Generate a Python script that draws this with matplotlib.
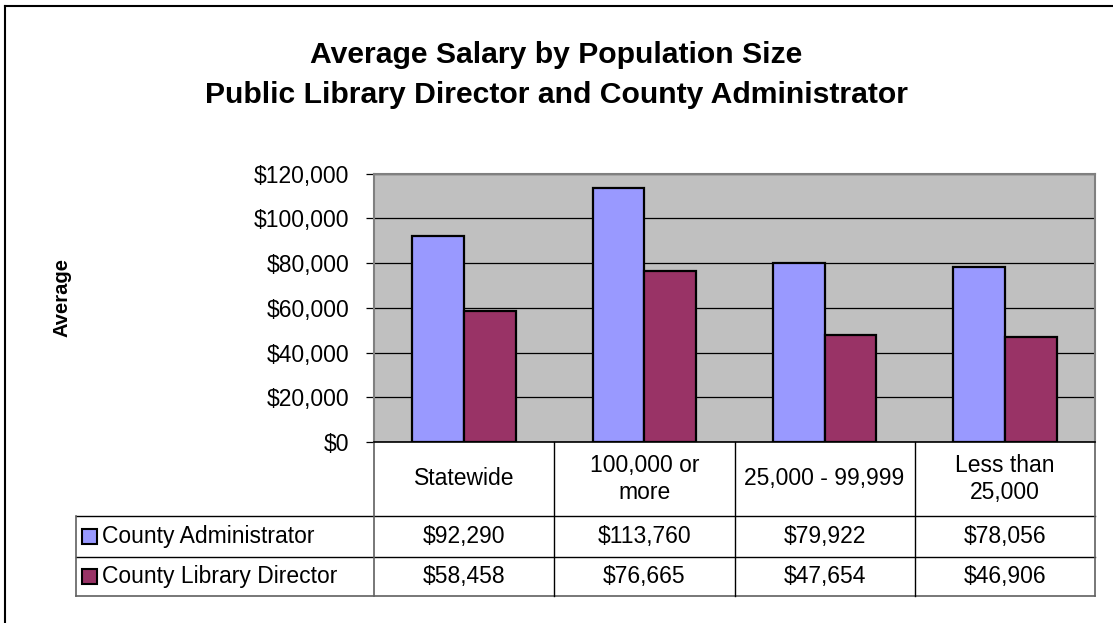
import matplotlib.pyplot as plt
from matplotlib.patches import Rectangle
from matplotlib.lines import Line2D

plt.rcParams['font.family'] = ['Liberation Sans', 'DejaVu Sans']

categories = ['Statewide', '100,000 or\nmore', '25,000 - 99,999', 'Less than\n25,000']
series_names = ['County Administrator', 'County Library Director']
admin = [92290, 113760, 79922, 78056]
library = [58458, 76665, 47654, 46906]
series_values = [admin, library]
colors = ['#9999FF', '#993366']
yticks = [0, 20000, 40000, 60000, 80000, 100000, 120000]
title_lines = ['Average Salary by Population Size',
               'Public Library Director and County Administrator']

W, H = 1113, 623
fig = plt.figure(figsize=(W / 100, H / 100), dpi=100)

# outer chart border (only top and left visible in the crop)
fig.add_artist(Line2D([5 / W, 5 / W], [0, 1 - 6 / H], color='black', lw=1.5))
fig.add_artist(Line2D([5 / W, 1], [1 - 6 / H, 1 - 6 / H], color='black', lw=1.5))

ax_l, ax_r, ax_t, ax_b = 374, 1095, 173.7, 442
ax = fig.add_axes([ax_l / W, 1 - ax_b / H, (ax_r - ax_l) / W, (ax_b - ax_t) / H])
ax.set_facecolor('#C0C0C0')

bw = 0.287
x = list(range(len(categories)))
for i, (vals, c) in enumerate(zip(series_values, colors)):
    off = (i - 0.5) * bw
    ax.bar([xi + off for xi in x], vals, width=bw, color=c,
           edgecolor='black', linewidth=1.6, zorder=3)

ax.set_xlim(-0.5, len(categories) - 0.5)
ax.set_ylim(0, 120000)
ax.set_yticks(yticks)
ax.set_yticklabels(['${:,}'.format(v) for v in yticks], fontsize=16.5)
ax.set_xticks([])
ax.grid(axis='y', color='black', lw=0.9, zorder=1)
ax.tick_params(axis='y', direction='out', length=6, width=0.9, pad=12)
for s in ['top', 'right', 'left']:
    ax.spines[s].set_color('#808080')
    ax.spines[s].set_linewidth(1.5)
ax.spines['bottom'].set_color('black')
ax.spines['bottom'].set_linewidth(1.2)

ax.set_ylabel('Average', fontsize=14.5, fontweight='bold', labelpad=0)
ax.yaxis.set_label_coords((72 - ax_l) / (ax_r - ax_l), 0.54)

for line, base in zip(title_lines, [63, 103]):
    fig.text(0.5, 1 - base / H, line, ha='center', va='baseline',
             fontsize=21.7, fontweight='bold')

# data table under the plot, in axes fraction coordinates
ah = ax_b - ax_t
aw = ax_r - ax_l
def fy(py):
    return (ax_b - py) / ah
def fx(px):
    return (px - ax_l) / aw

row_edges = [442, 515.7, 556.7, 595.7]
tbl_left = 76
col_edges = [fx(374 + k * aw / len(categories)) for k in range(len(categories) + 1)]
kw = dict(transform=ax.transAxes, clip_on=False)

# horizontal lines
ax.add_line(Line2D([fx(tbl_left), 1], [fy(515.7)] * 2, color='black', lw=1, **kw))
ax.add_line(Line2D([fx(tbl_left), 1], [fy(556.7)] * 2, color='black', lw=1, **kw))
ax.add_line(Line2D([fx(tbl_left), 1], [fy(595.7)] * 2, color='#606060', lw=1.2, **kw))
# vertical lines
for k, cx in enumerate(col_edges):
    outer = k in (0, len(col_edges) - 1)
    ax.add_line(Line2D([cx, cx], [fy(442), fy(595.7)],
                       color='#606060' if outer else 'black',
                       lw=1.2 if outer else 1, **kw))
ax.add_line(Line2D([fx(tbl_left)] * 2, [fy(515.7), fy(595.7)], color='#606060', lw=1.2, **kw))

for j, cat in enumerate(categories):
    cx = (col_edges[j] + col_edges[j + 1]) / 2
    ax.text(cx, fy((442 + 515.7) / 2), cat, ha='center', va='center',
            fontsize=16.5, linespacing=1.25, **kw)
    for r, vals in enumerate(series_values):
        cy = fy((row_edges[r + 1] + row_edges[r + 2]) / 2)
        ax.text(cx, cy, '${:,}'.format(vals[j]), ha='center', va='center',
                fontsize=16.5, **kw)

for r, (name, c) in enumerate(zip(series_names, colors)):
    cy_px = (row_edges[r + 1] + row_edges[r + 2]) / 2
    ax.add_patch(Rectangle((fx(82), fy(cy_px + 7.5)), 15 / aw, 15 / ah,
                           facecolor=c, edgecolor='black', lw=1.5, **kw))
    ax.text(fx(102), fy(cy_px), name, ha='left', va='center', fontsize=16.5, **kw)

fig.savefig('out.png', dpi=100)
